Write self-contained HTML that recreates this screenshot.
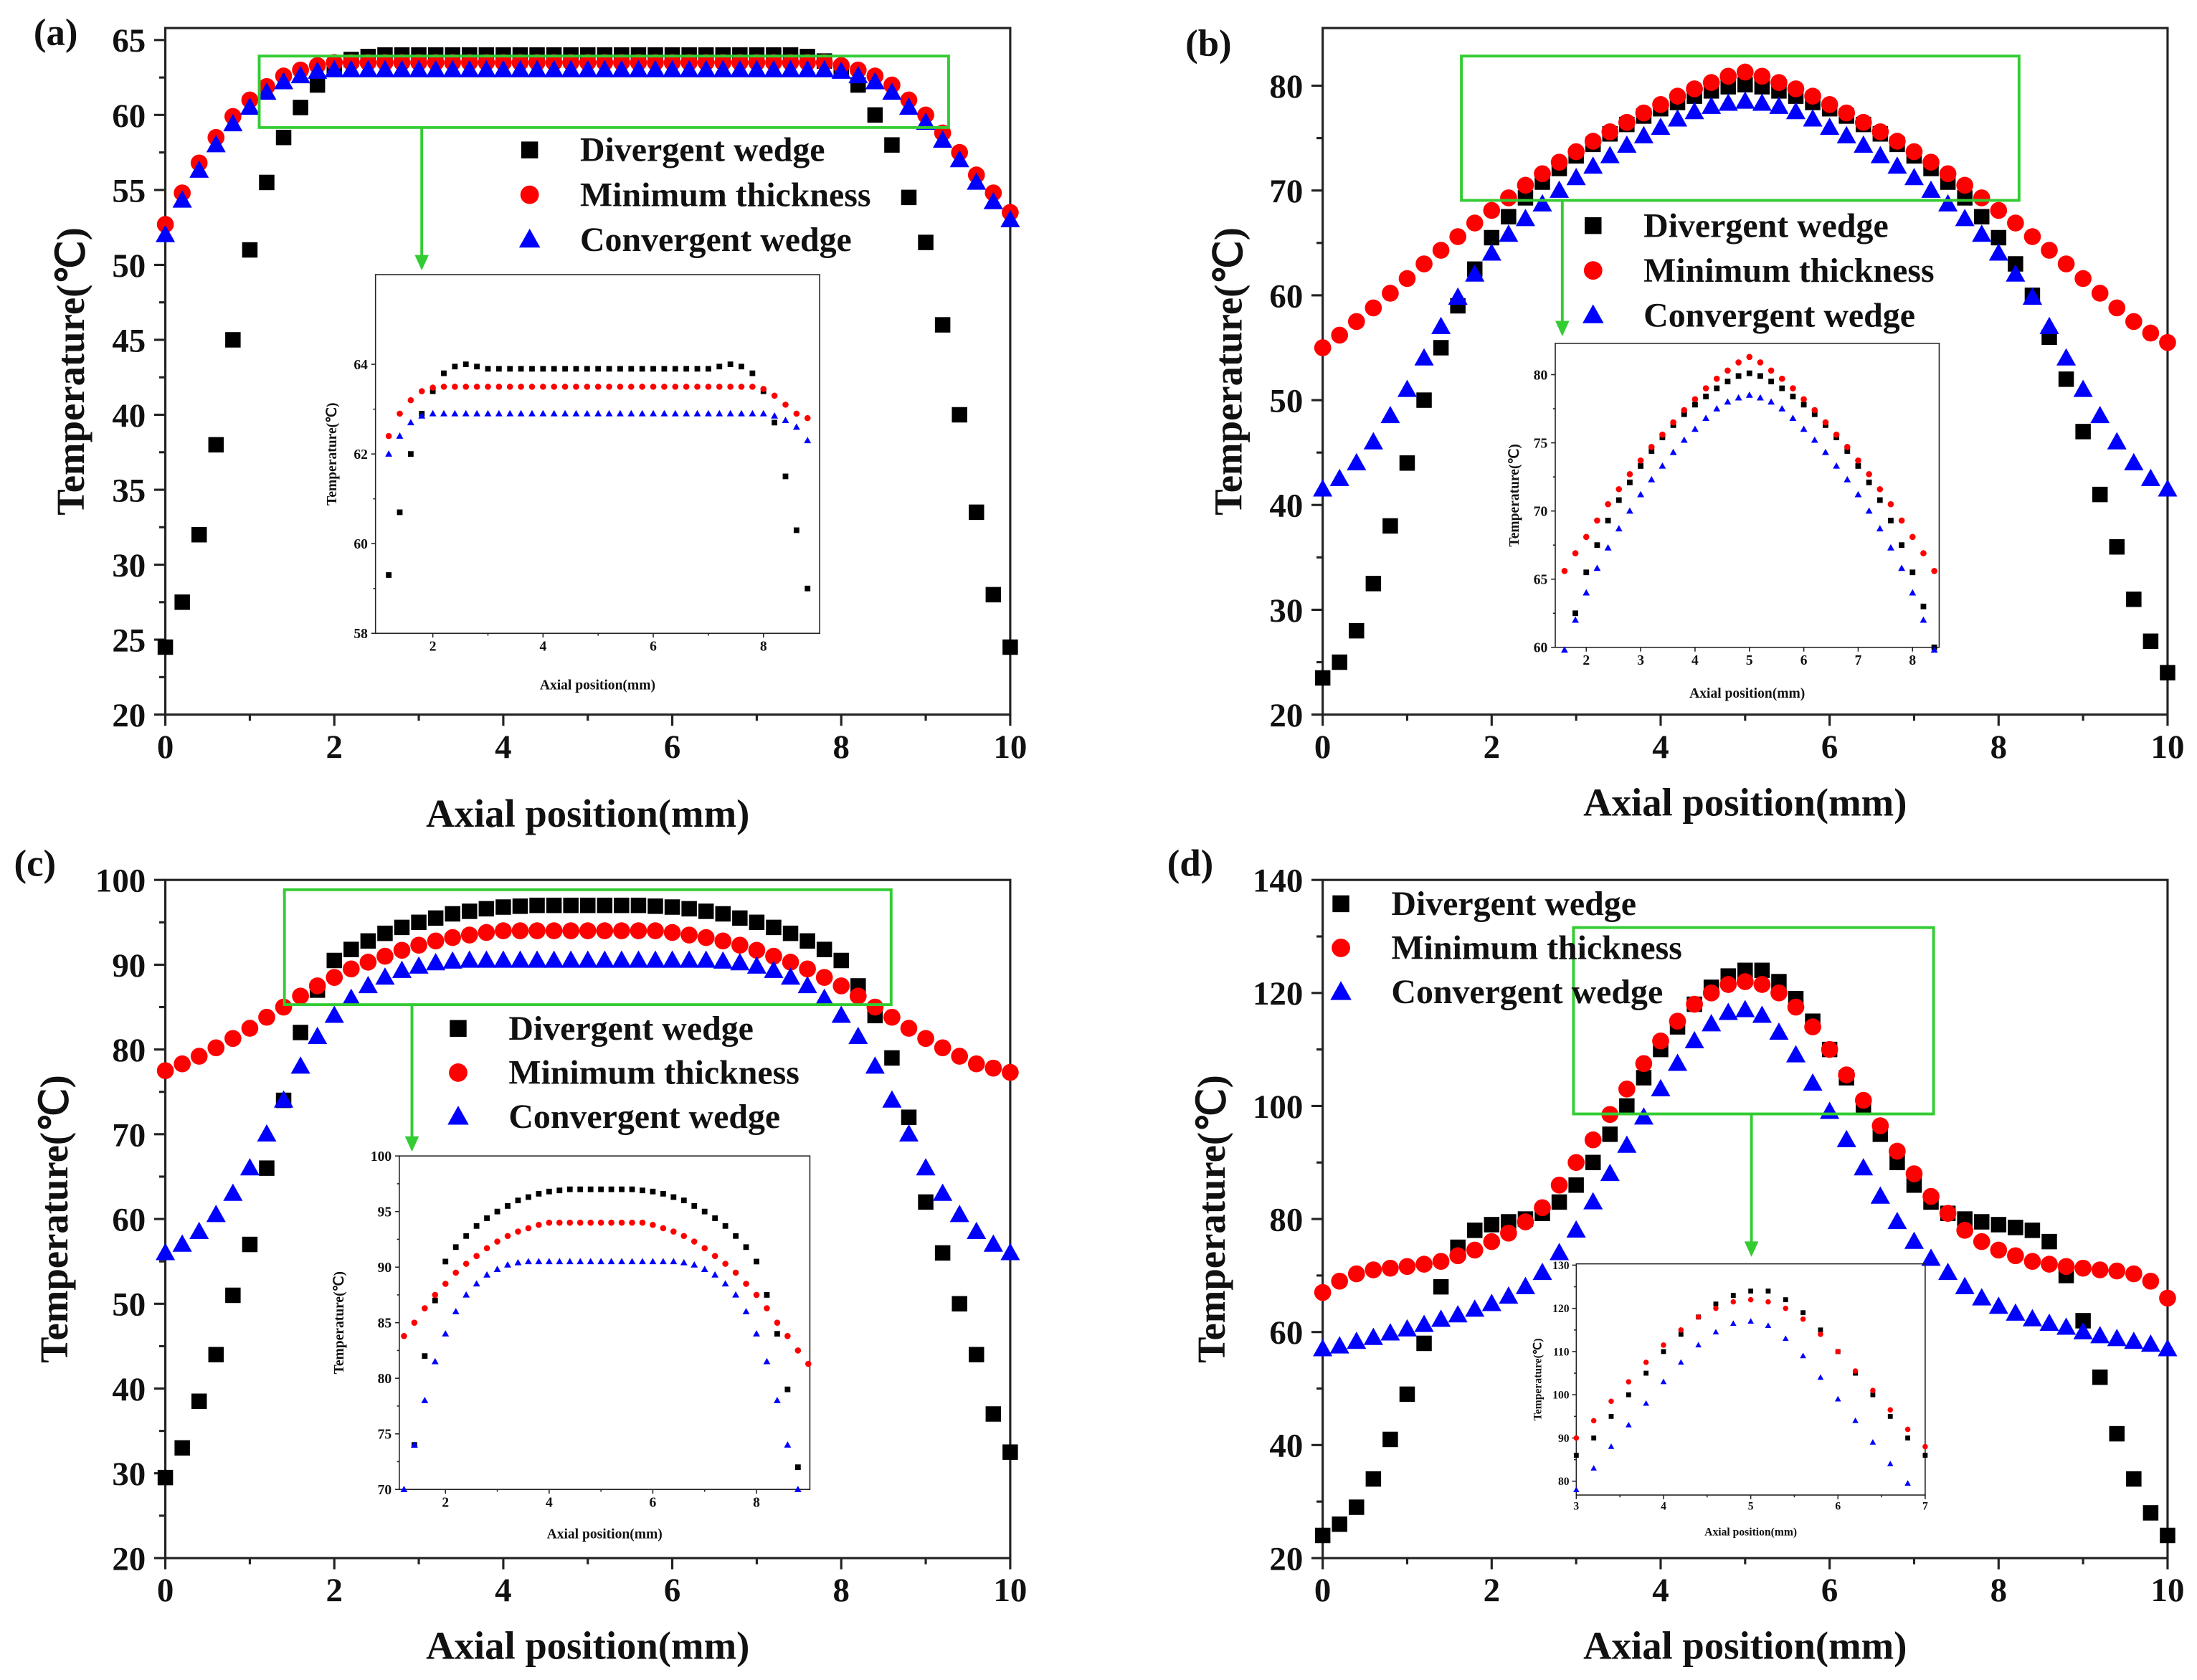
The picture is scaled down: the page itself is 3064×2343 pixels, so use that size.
<!DOCTYPE html>
<html><head><meta charset="utf-8">
<style>
html,body{margin:0;padding:0;background:#fff;}
svg{display:block;}
text{font-family:"Liberation Serif",serif;}
</style></head>
<body>
<svg id="fig" width="3064" height="2343" viewBox="0 0 1568 1199" xmlns="http://www.w3.org/2000/svg"></svg>
<script>
// ---------- data ----------
const xsMain = [0,0.2,0.4,0.6,0.8,1,1.2,1.4,1.6,1.8,2,2.2,2.4,2.6,2.8,3,3.2,3.4,3.6,3.8,4,4.2,4.4,4.6,4.8,5,5.2,5.4,5.6,5.8,6,6.2,6.4,6.6,6.8,7,7.2,7.4,7.6,7.8,8,8.2,8.4,8.6,8.8,9,9.2,9.4,9.6,9.8,10];

const aBlack = [24.5,27.5,32,38,45,51,55.5,58.5,60.5,62,63.2,63.7,63.9,64,64,64,64,64,64,64,64,64,64,64,64,64,64,64,64,64,64,64,64,64,64,64,64,64,63.9,63.6,63,62,60,58,54.5,51.5,46,40,33.5,28,24.5];
const aRed = [52.7,54.8,56.8,58.5,59.9,61,61.9,62.6,63,63.3,63.5,63.5,63.5,63.5,63.5,63.5,63.5,63.5,63.5,63.5,63.5,63.5,63.5,63.5,63.5,63.5,63.5,63.5,63.5,63.5,63.5,63.5,63.5,63.5,63.5,63.5,63.5,63.5,63.5,63.5,63.3,63,62.6,62,61,60,58.8,57.5,56,54.8,53.5];
const aBlue = [52,54.3,56.3,58,59.4,60.5,61.5,62.2,62.6,62.9,63,63,63,63,63,63,63,63,63,63,63,63,63,63,63,63,63,63,63,63,63,63,63,63,63,63,63,63,63,63,62.9,62.6,62.2,61.5,60.5,59.5,58.3,57,55.5,54.2,53];

const xsInsetA = [1.2,1.4,1.6,1.8,2,2.2,2.4,2.6,2.8,3,3.2,3.4,3.6,3.8,4,4.2,4.4,4.6,4.8,5,5.2,5.4,5.6,5.8,6,6.2,6.4,6.6,6.8,7,7.2,7.4,7.6,7.8,8,8.2,8.4,8.6,8.8];
const aInsetBlack = [59.3,60.7,62,62.9,63.4,63.8,63.95,64,63.95,63.9,63.9,63.9,63.9,63.9,63.9,63.9,63.9,63.9,63.9,63.9,63.9,63.9,63.9,63.9,63.9,63.9,63.9,63.9,63.9,63.9,63.95,64,63.95,63.8,63.4,62.7,61.5,60.3,59];
const aInsetRed = [62.4,62.9,63.2,63.4,63.48,63.5,63.5,63.5,63.5,63.5,63.5,63.5,63.5,63.5,63.5,63.5,63.5,63.5,63.5,63.5,63.5,63.5,63.5,63.5,63.5,63.5,63.5,63.5,63.5,63.5,63.5,63.5,63.5,63.5,63.45,63.3,63.1,62.9,62.8];
const aInsetBlue = [62,62.4,62.7,62.85,62.9,62.9,62.9,62.9,62.9,62.9,62.9,62.9,62.9,62.9,62.9,62.9,62.9,62.9,62.9,62.9,62.9,62.9,62.9,62.9,62.9,62.9,62.9,62.9,62.9,62.9,62.9,62.9,62.9,62.9,62.9,62.85,62.75,62.6,62.3];

const bBlack = [23.5,25,28,32.5,38,44,50,55,59,62.5,65.5,67.5,69.3,70.8,72.1,73.3,74.4,75.4,76.3,77.1,77.8,78.4,79,79.5,79.9,80.1,79.9,79.5,79,78.4,77.8,77.1,76.3,75.4,74.4,73.3,72.1,70.8,69.3,67.5,65.5,63,60,56,52,47,41,36,31,27,24];
const bRed = [55,56.2,57.5,58.8,60.2,61.6,63,64.3,65.6,66.9,68.1,69.3,70.5,71.6,72.7,73.7,74.7,75.6,76.5,77.4,78.2,79,79.7,80.3,80.9,81.3,80.9,80.3,79.7,79,78.2,77.4,76.5,75.6,74.7,73.7,72.7,71.6,70.5,69.3,68.1,66.9,65.6,64.3,63,61.6,60.2,58.8,57.5,56.4,55.5];
const bBlue = [41.5,42.5,44,46,48.5,51,54,57,59.8,62,64,65.8,67.3,68.7,70,71.2,72.3,73.3,74.3,75.2,76,76.8,77.5,78,78.3,78.5,78.3,78,77.5,76.8,76,75.2,74.3,73.3,72.3,71.2,70,68.7,67.3,65.8,64,62,59.8,57,54,51,48.5,46,44,42.5,41.5];

const cBlack = [29.5,33,38.5,44,51,57,66,74,82,87,90.5,91.8,92.8,93.7,94.4,95,95.5,96,96.3,96.6,96.8,96.9,97,97,97,97,97,97,97,96.9,96.8,96.6,96.3,96,95.5,95,94.4,93.7,92.8,91.8,90.5,87.5,84,79,72,62,56,50,44,37,32.5];
const cRed = [77.5,78.3,79.2,80.2,81.3,82.5,83.8,85,86.3,87.5,88.5,89.5,90.3,91,91.7,92.3,92.8,93.2,93.5,93.8,94,94,94,94,94,94,94,94,94,94,93.8,93.5,93.2,92.8,92.3,91.7,91,90.3,89.5,88.5,87.5,86.3,85,83.8,82.5,81.3,80.2,79.2,78.3,77.8,77.3];
const cBlue = [56,57,58.5,60.5,63,66,70,74,78,81.5,84,86,87.5,88.5,89.3,89.8,90.2,90.4,90.5,90.5,90.5,90.5,90.5,90.5,90.5,90.5,90.5,90.5,90.5,90.5,90.5,90.5,90.5,90.4,90.2,89.8,89.3,88.5,87.5,86,84,81.5,78,74,70,66,63,60.5,58.5,57,56];

const dBlack = [24,26,29,34,41,49,58,68,75,78,79,79.5,80,81,83,86,90,95,100,105,110,114,118,121,123,124,124,122,119,115,110,105,100,95,90,86,83,81,80,79.5,79,78.5,78,76,70,62,52,42,34,28,24];
const dRed = [67,69,70.3,71,71.3,71.6,72,72.5,73.5,74.5,76,77.5,79.5,82,86,90,94,98.5,103,107.5,111.5,115,118,120,121.5,122,121.5,120,117.5,114,110,105.5,101,96.5,92,88,84,81,78,76,74.5,73.5,72.5,72,71.6,71.3,71,70.8,70.3,69,66];
const dBlue = [57,57.5,58.3,59,59.8,60.5,61.3,62.2,63,64,65,66.3,68,70.5,74,78,83,88,93,98,103,107.5,111.5,114.5,116.5,117,116,113,109,104,99,94,89,84,79.5,76,73,70.5,68,66,64.5,63.3,62.3,61.5,60.8,60,59.3,58.8,58.3,57.8,57];

const seriesNames = ["Divergent wedge","Minimum thickness","Convergent wedge"];
const xTicksMain = [0,2,4,6,8,10];
const yTicksA = [20,25,30,35,40,45,50,55,60,65];
const yTicksB = [20,30,40,50,60,70,80];
const yTicksC = [20,30,40,50,60,70,80,90,100];
const yTicksD = [20,40,60,80,100,120,140];
const xTicksInsetA = [2,4,6,8];
const yTicksInsetA = [58,60,62,64];
const xTicksInsetB = [2,3,4,5,6,7,8];
const yTicksInsetB = [60,65,70,75,80];
const xTicksInsetC = [2,4,6,8];
const yTicksInsetC = [70,75,80,85,90,95,100];
const xTicksInsetD = [3,4,5,6,7];
const yTicksInsetD = [80,90,100,110,120,130];

// ---------- drawing ----------
const NS = "http://www.w3.org/2000/svg";
const svg = document.getElementById('fig');
function mk(tag, attrs, parent){
  const e = document.createElementNS(NS, tag);
  for (const k in attrs) e.setAttribute(k, attrs[k]);
  (parent||svg).appendChild(e);
  return e;
}
const colors = ["#000000","#ff0000","#0000ff"];

function marker(g, kind, cx, cy, s){
  let e;
  if (kind===0){
    e = mk('rect',{x:cx-s/2,y:cy-s/2,width:s,height:s,fill:colors[0]},g);
  } else if (kind===1){
    e = mk('circle',{cx:cx,cy:cy,r:s*0.55,fill:colors[1]},g);
  } else {
    const h=s*1.05;
    e = mk('polygon',{points:`${cx},${cy-h*0.62} ${cx-h*0.6},${cy+h*0.45} ${cx+h*0.6},${cy+h*0.45}`,fill:colors[2]},g);
  }
  return e;
}

function drawAxes(p, name){
  const g = mk('g',{});
  
  
  const X = v => p.x0 + (v - p.xmin)/(p.xmax - p.xmin)*(p.x1 - p.x0);
  const Y = v => p.y1 - (v - p.ymin)/(p.ymax - p.ymin)*(p.y1 - p.y0);
  const fr = mk('rect',{x:p.x0,y:p.y0,width:p.x1-p.x0,height:p.y1-p.y0,fill:'none',stroke:'#222','stroke-width':p.lw},g);
  
  
  p.xt.forEach((v,i)=>{
    const x=X(v);
    mk('line',{x1:x,y1:p.y1,x2:x,y2:p.y1+p.tl,stroke:'#222','stroke-width':p.lw},g);
    const t=mk('text',{x:x,y:p.y1+p.tl+p.fs*0.95,'font-size':p.fs,'font-weight':'bold','text-anchor':'middle',fill:'#111'},g);
    t.textContent = v;
    
    
    if (i<p.xt.length-1 && p.xminor){
      const mv=(v+p.xt[i+1])/2, mx=X(mv);
      mk('line',{x1:mx,y1:p.y1,x2:mx,y2:p.y1+p.tl*0.55,stroke:'#222','stroke-width':p.lw},g);
    }
  });
  p.yt.forEach((v,i)=>{
    const y=Y(v);
    mk('line',{x1:p.x0,y1:y,x2:p.x0-p.tl,y2:y,stroke:'#222','stroke-width':p.lw},g);
    const t=mk('text',{x:p.x0-p.tl-p.fs*0.25,y:y+p.fs*0.35,'font-size':p.fs,'font-weight':'bold','text-anchor':'end',fill:'#111'},g);
    t.textContent = v;
    
    
    if (i<p.yt.length-1){
      const my=Y((v+p.yt[i+1])/2);
      mk('line',{x1:p.x0,y1:my,x2:p.x0-p.tl*0.55,y2:my,stroke:'#222','stroke-width':p.lw},g);
    }
  });
  const xt=mk('text',{x:(p.x0+p.x1)/2,y:p.xly,'font-size':p.tfs,'font-weight':'bold','text-anchor':'middle',fill:'#111'},g);
  xt.textContent='Axial position(mm)';
  
  
  const yt=mk('text',{x:0,y:0,'font-size':p.tfs,'font-weight':'bold','text-anchor':'middle',fill:'#111',transform:`translate(${p.ylx},${(p.y0+p.y1)/2}) rotate(-90)`},g);
  yt.textContent='Temperature(℃)';
  
  
  return {g,X,Y};
}

function drawSeries(ax, p, xs, arrs){
  arrs.forEach((arr,k)=>{
    const sg = mk('g',{},ax.g);
    
    
    arr.forEach((v,i)=>{
      if (xs[i] < p.xmin-1e-9 || xs[i] > p.xmax+1e-9) return;
      if (v < p.ymin-0.3 || v > p.ymax+0.3) return;
      const m = marker(sg, k, ax.X(xs[i]), ax.Y(v), p.ms);
      
      
    });
  });
}

function legend(lx, ly, dy, name){
  const g=mk('g',{});
  
  
  seriesNames.forEach((s,k)=>{
    const y=ly+k*dy;
    marker(g,k,lx,y,12);
    const t=mk('text',{x:lx+36,y:y+8,'font-size':24.5,'font-weight':'bold',fill:'#111'},g);
    t.textContent=s;
    
    
  });
}

function zoomBox(x0,y0,x1,y1,ax,ayTop,ayBot,name){
  const g=mk('g',{});
  
  
  mk('rect',{x:x0,y:y0,width:x1-x0,height:y1-y0,fill:'none',stroke:'#33cc33','stroke-width':2},g);
  mk('line',{x1:ax,y1:ayTop,x2:ax,y2:ayBot-8,stroke:'#33cc33','stroke-width':2},g);
  mk('polygon',{points:`${ax-5},${ayBot-11} ${ax+5},${ayBot-11} ${ax},${ayBot}`,fill:'#33cc33'},g);
}

function panelLabel(txt,x,y){
  const t=mk('text',{x:x,y:y,'font-size':27,'font-weight':'bold',fill:'#111'});
  t.textContent=txt;
  
  
}

const mainCommon = {lw:1.6,tl:8,fs:24,tfs:28,ms:11,xminor:true,xmin:0,xmax:10};

// Panel (a)
{
  const p=Object.assign({},mainCommon,{x0:118,x1:721,y0:20,y1:510,ymin:20,ymax:65.8,xt:xTicksMain,yt:yTicksA,xly:590,ylx:60});
  const ax=drawAxes(p,'panel-a');
  drawSeries(ax,p,xsMain,[aBlack,aRed,aBlue]);
  zoomBox(185,40,677,91,301,91,193,'zoom-box-a');
  legend(378,107,32,'legend-a');
  const q={x0:268,x1:585,y0:196,y1:452,xmin:0.96,xmax:9.02,ymin:58,ymax:66,xt:xTicksInsetA,yt:yTicksInsetA,lw:0.8,tl:3,fs:10,tfs:10,ms:4,xminor:true,xly:492,ylx:240};
  const ix=drawAxes(q,'inset-a');
  drawSeries(ix,q,xsInsetA,[aInsetBlack,aInsetRed,aInsetBlue]);
  panelLabel('(a)',24,32);
}
// Panel (b)
{
  const p=Object.assign({},mainCommon,{x0:944,x1:1547,y0:20,y1:510,ymin:20,ymax:85.5,xt:xTicksMain,yt:yTicksB,xly:582,ylx:886});
  const ax=drawAxes(p,'panel-b');
  drawSeries(ax,p,xsMain,[bBlack,bRed,bBlue]);
  zoomBox(1043,40,1441,143,1115,143,240,'zoom-box-b');
  legend(1137,161,32,'legend-b');
  const q={x0:1110,x1:1384,y0:245,y1:462,xmin:1.43,xmax:8.49,ymin:60,ymax:82.3,xt:xTicksInsetB,yt:yTicksInsetB,lw:0.8,tl:3,fs:10,tfs:10,ms:4,xminor:false,xly:498,ylx:1084};
  const ix=drawAxes(q,'inset-b');
  drawSeries(ix,q,xsMain,[bBlack,bRed,bBlue]);
  panelLabel('(b)',846,40);
}
// Panel (c)
{
  const p=Object.assign({},mainCommon,{x0:118,x1:721,y0:628,y1:1112,ymin:20,ymax:100,xt:xTicksMain,yt:yTicksC,xly:1184,ylx:48});
  const ax=drawAxes(p,'panel-c');
  drawSeries(ax,p,xsMain,[cBlack,cRed,cBlue]);
  zoomBox(203,635,636,717,294,717,822,'zoom-box-c');
  legend(327,734,31.5,'legend-c');
  const q={x0:285,x1:578,y0:825,y1:1063,xmin:1.11,xmax:9.03,ymin:70,ymax:100,xt:xTicksInsetC,yt:yTicksInsetC,lw:0.8,tl:3,fs:10,tfs:10,ms:4,xminor:true,xly:1098,ylx:245};
  const ix=drawAxes(q,'inset-c');
  drawSeries(ix,q,xsMain,[cBlack,cRed,cBlue]);
  panelLabel('(c)',10,625);
}
// Panel (d)
{
  const p=Object.assign({},mainCommon,{x0:944,x1:1547,y0:628,y1:1112,ymin:20,ymax:140,xt:xTicksMain,yt:yTicksD,xly:1184,ylx:874});
  const ax=drawAxes(p,'panel-d');
  drawSeries(ax,p,xsMain,[dBlack,dRed,dBlue]);
  zoomBox(1123,662,1380,795,1250,795,897,'zoom-box-d');
  legend(957,645,31.5,'legend-d');
  const q={x0:1125,x1:1374,y0:902,y1:1067,xmin:3,xmax:7,ymin:76.8,ymax:130.3,xt:xTicksInsetD,yt:yTicksInsetD,lw:0.8,tl:3,fs:8,tfs:8,ms:3.5,xminor:true,xly:1096,ylx:1100};
  const ix=drawAxes(q,'inset-d');
  drawSeries(ix,q,xsMain,[dBlack,dRed,dBlue]);
  panelLabel('(d)',833,625);
}
</script>
</body></html>
